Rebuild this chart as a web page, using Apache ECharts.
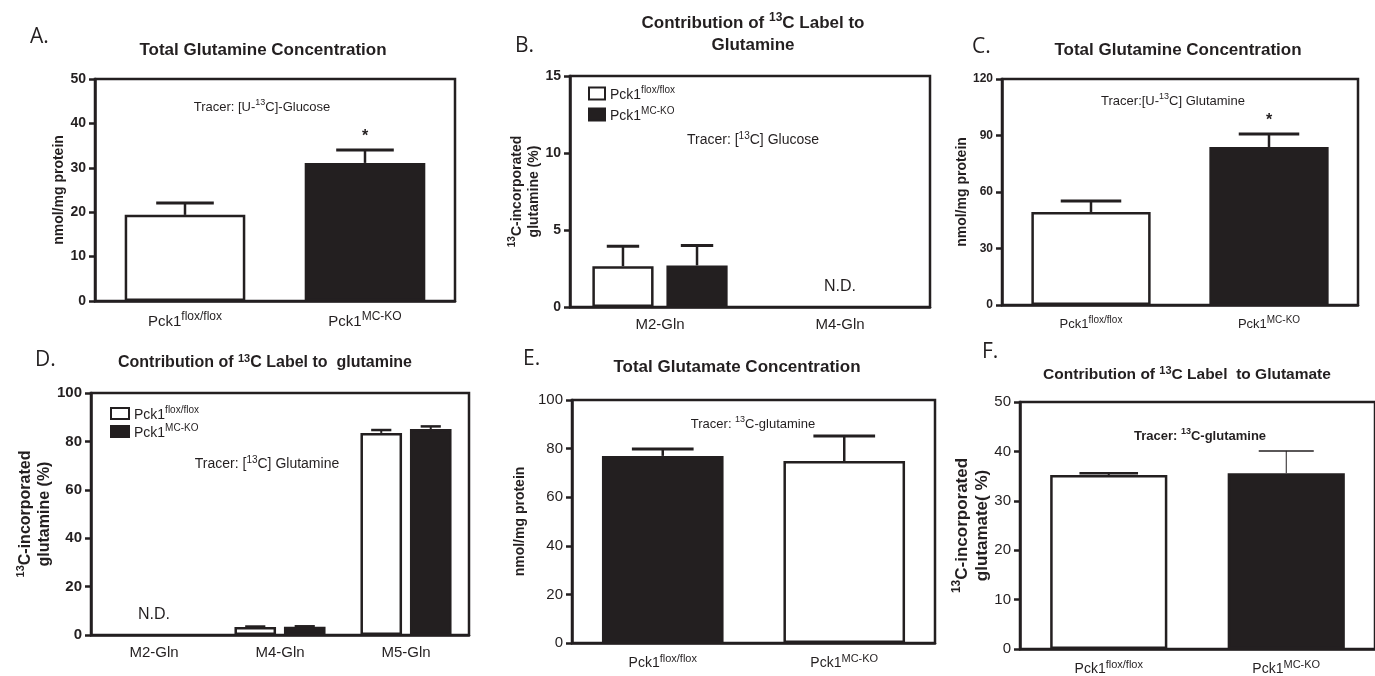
<!DOCTYPE html>
<html>
<head>
<meta charset="utf-8">
<script src="https://cdn.jsdelivr.net/npm/echarts@6/dist/echarts.min.js"></script>
<style>
  html, body { margin: 0; padding: 0; background: #fff; }
  #chart { width: 1375px; height: 676px; }
</style>
</head>
<body>
<div id="chart"></div>
<script>
// genotype superscripts (Pck1^x)
const genotypes = ['flox/flox', 'MC-KO'];

// A: total glutamine, [U-13C]-glucose tracer
const aMean = [19.4, 31.1];
const aSem = [2.7, 2.9];

// B: 13C label to glutamine, glucose tracer
const bCats = ['M2-Gln', 'M4-Gln'];
const bFlox = [2.65, null];
const bFloxSem = [1.3, null];
const bKo = [2.7, null];
const bKoSem = [1.3, null];

// C: total glutamine, [U-13C] glutamine tracer
const cMean = [49.4, 83.9];
const cSem = [5.8, 6.9];

// D: 13C label to glutamine, glutamine tracer
const dCats = ['M2-Gln', 'M4-Gln', 'M5-Gln'];
const dFlox = [null, 3.3, 83.5];
const dFloxSem = [null, 0.2, 1.2];
const dKo = [null, 3.4, 85.1];
const dKoSem = [null, 0.2, 1.1];

// E: total glutamate
const eMean = [77.0, 74.9];
const eSem = [2.8, 10.3];

// F: 13C label to glutamate
const fMean = [35.2, 35.6];
const fSem = [0.4, 4.5];

const ink = '#231f20';
const font = 'Liberation Sans';
const chart = echarts.init(document.getElementById('chart'));

// rich styles for superscripts
function richSet(size, bold, supSize) {
  const w = bold ? 'bold' : 'normal';
  return {
    n: { fontSize: size, fontWeight: w, fontFamily: font, color: ink, lineHeight: size + 3, verticalAlign: 'bottom' },
    s: { fontSize: supSize, fontWeight: w, fontFamily: font, color: ink, lineHeight: supSize, verticalAlign: 'top' }
  };
}

const grids = [
  { left: 95, top: 79, width: 360, height: 222 },
  { left: 570, top: 76, width: 360, height: 231 },
  { left: 1002, top: 79, width: 356, height: 226 },
  { left: 91, top: 393, width: 378, height: 242 },
  { left: 572, top: 400, width: 363, height: 243 },
  { left: 1020, top: 402, width: 358, height: 247 }
].map(g => Object.assign(g, { show: true, borderColor: ink, borderWidth: 2.5 }));

function xAx(idx, cats, size, pck) {
  return {
    type: 'category', gridIndex: idx, data: cats,
    axisLine: { lineStyle: { color: ink, width: 2.5 } },
    axisTick: { show: false },
    axisLabel: pck ? {
      margin: 10,
      formatter: v => '{n|Pck1}{s|' + v + '}',
      rich: richSet(size, false, Math.round(size * 0.78))
    } : { margin: 10, fontSize: size, fontFamily: font, color: ink }
  };
}

function yAx(idx, max, interval, labelSize, bold, name, nameSize, nameGap) {
  return {
    type: 'value', gridIndex: idx, min: 0, max: max, interval: interval,
    splitLine: { show: false },
    axisLine: { show: true, lineStyle: { color: ink, width: 2.5 } },
    axisTick: { show: true, length: 6, lineStyle: { color: ink, width: 2.5 } },
    axisLabel: { margin: 9, fontSize: labelSize, fontWeight: bold ? 'bold' : 'normal', fontFamily: font, color: ink },
    name: name, nameLocation: 'middle', nameRotate: 90, nameGap: nameGap,
    nameTextStyle: { rich: richSet(nameSize, true, Math.round(nameSize * 0.7)) }
  };
}

function barItem(v, fill) {
  return { value: v, itemStyle: { color: fill } };
}

function bars(idx, name, values, fills, width, gap) {
  return {
    type: 'bar', name: name, xAxisIndex: idx, yAxisIndex: idx,
    barWidth: width, barGap: gap,
    data: values.map((v, i) => barItem(v, Array.isArray(fills) ? fills[i] : fills)),
    itemStyle: { borderColor: ink, borderWidth: 2.5, color: Array.isArray(fills) ? fills[0] : fills },
    emphasis: { disabled: true }
  };
}

// upper error bars (mean -> mean + sem) with caps, optional asterisk
function errs(idx, means, sems, offset, capFrac, lw, stars) {
  const data = [];
  means.forEach((m, i) => { if (m != null && sems[i] != null) data.push([i, m, sems[i]]); });
  return {
    type: 'custom', xAxisIndex: idx, yAxisIndex: idx, z: 5, data: data,
    renderItem: function (params, api) {
      const i = api.value(0), m = api.value(1), s = api.value(2);
      const band = api.size([1, 0])[0];
      const b = api.coord([i, m]), t = api.coord([i, m + s]);
      const x = b[0] + offset * band, half = capFrac * band / 2;
      const kids = [
        { type: 'line', shape: { x1: x, y1: b[1], x2: x, y2: t[1] }, style: { stroke: ink, lineWidth: lw } },
        { type: 'line', shape: { x1: x - half, y1: t[1], x2: x + half, y2: t[1] }, style: { stroke: ink, lineWidth: lw + 0.5 } }
      ];
      if (stars && stars[i]) {
        kids.push({ type: 'text', x: x, y: t[1] - 13, style: { text: '*', fill: ink, font: 'bold 16px ' + font, align: 'center', verticalAlign: 'middle' } });
      }
      return { type: 'group', children: kids };
    }
  };
}

// "N.D." marker placed at a category's baseline
function notDetected(idx, catIndex, size) {
  return {
    type: 'scatter', xAxisIndex: idx, yAxisIndex: idx, symbolSize: 0,
    data: [[catIndex, 0]], silent: true, itemStyle: { opacity: 1 },
    label: { show: true, formatter: 'N.D.', position: 'top', distance: 12, fontSize: size, fontFamily: font, color: ink, opacity: 1 }
  };
}

const white = '#ffffff';
const black = ink;
const bw = 0.34, bg = 0.21;
const bOff = bw * (1 + bg) / 2;
const dw = 0.33, dg = 0.19;
const dOff = dw * (1 + dg) / 2;

const legendNames = {
  bFlox: '{n|Pck1}{s|flox/flox}', bKo: '{n|Pck1}{s|MC-KO}',
  dFlox: '{n|Pck1}{s|flox/flox}', dKo: '{n|Pck1}{s|MC-KO}'
};

function txt(x, y, text, size, bold, align, lh) {
  return {
    type: 'text', x: x, y: y, silent: true,
    style: {
      text: text, fill: ink, align: align || 'center', verticalAlign: 'middle',
      font: (bold ? 'bold ' : '') + size + 'px ' + font,
      lineHeight: lh || size + 4,
      rich: {
        s: { fontSize: Math.round(size * 0.7), fontWeight: bold ? 'bold' : 'normal', fontFamily: font, verticalAlign: 'top', lineHeight: Math.round(size * 0.7) },
        n: { fontSize: size, fontWeight: bold ? 'bold' : 'normal', fontFamily: font, verticalAlign: 'bottom', lineHeight: lh || size + 4 }
      }
    }
  };
}

function letter(x, y, t) {
  return { type: 'text', x: x, y: y, silent: true,
    style: { text: t, fill: ink, font: '21px "Open Sans"', align: 'left', verticalAlign: 'middle' } };
}

chart.setOption({
  animation: false,
  grid: grids,
  xAxis: [
    xAx(0, genotypes, 15, true),
    xAx(1, bCats, 15, false),
    xAx(2, genotypes, 13, true),
    xAx(3, dCats, 15, false),
    xAx(4, genotypes, 14, true),
    xAx(5, genotypes, 14, true)
  ],
  yAxis: [
    yAx(0, 50, 10, 14, true, '{n|nmol/mg protein}', 14, 26),
    yAx(1, 15, 5, 14, true, '{s|13}{n|C-incorporated}\n{n|glutamine (%)}', 14, 24),
    yAx(2, 120, 30, 12, true, '{n|nmol/mg protein}', 14, 29),
    yAx(3, 100, 20, 15, true, '{s|13}{n|C-incorporated}\n{n|glutamine (%)}', 16, 33),
    yAx(4, 100, 20, 15, false, '{n|nmol/mg protein}', 14, 45),
    yAx(5, 50, 10, 15, false, '{s|13}{n|C-incorporated}\n{n|glutamate( %)}', 17, 27)
  ],
  legend: [
    {
      left: 583, top: 80, orient: 'vertical', itemWidth: 16, itemHeight: 12, itemGap: 4,
      data: ['bFlox', 'bKo'], icon: 'rect', selectedMode: false,
      itemStyle: { borderColor: ink, borderWidth: 2 },
      formatter: n => legendNames[n], textStyle: { rich: richSet(14, false, 10) }
    },
    {
      left: 105, top: 400, orient: 'vertical', itemWidth: 18, itemHeight: 11, itemGap: 1,
      data: ['dFlox', 'dKo'], icon: 'rect', selectedMode: false,
      itemStyle: { borderColor: ink, borderWidth: 2 },
      formatter: n => legendNames[n], textStyle: { rich: richSet(14, false, 10) }
    }
  ],
  series: [
    bars(0, 'a', aMean, [white, black], '67%', 0),
    errs(0, aMean, aSem, 0, 0.32, 2.5, [false, true]),

    bars(1, 'bFlox', bFlox, white, '34%', '21%'),
    bars(1, 'bKo', bKo, black, '34%', '21%'),
    errs(1, bFlox, bFloxSem, -bOff, 0.18, 2.5),
    errs(1, bKo, bKoSem, bOff, 0.18, 2.5),
    notDetected(1, 1, 16),

    bars(2, 'c', cMean, [white, black], '67%', 0),
    errs(2, cMean, cSem, 0, 0.34, 2.5, [false, true]),

    bars(3, 'dFlox', dFlox, white, '33%', '19%'),
    bars(3, 'dKo', dKo, black, '33%', '19%'),
    errs(3, dFlox, dFloxSem, -dOff, 0.16, 2),
    errs(3, dKo, dKoSem, dOff, 0.16, 2),
    notDetected(3, 0, 16),

    bars(4, 'e', eMean, [black, white], '67%', 0),
    errs(4, eMean, eSem, 0, 0.34, 2.5),

    bars(5, 'f', fMean, [white, black], '66%', 0),
    errs(5, [fMean[0]], [fSem[0]], 0, 0.33, 2),
    errs(5, [null, fMean[1]], [null, fSem[1]], 0, 0.31, 1)
  ],
  graphic: [
    letter(30, 37, 'A.'), letter(515, 46, 'B.'), letter(972, 47, 'C.'),
    letter(35, 360, 'D.'), letter(523, 359, 'E.'), letter(982, 352, 'F.'),

    txt(263, 50, 'Total Glutamine Concentration', 17, true),
    txt(753, 34, 'Contribution of {s|13}C Label to\nGlutamine', 17, true, 'center', 22),
    txt(1178, 50, 'Total Glutamine Concentration', 17, true),
    txt(265, 363, 'Contribution of {s|13}C Label to  glutamine', 16, true),
    txt(737, 367, 'Total Glutamate Concentration', 17, true),
    txt(1187, 375, 'Contribution of {s|13}C Label  to Glutamate', 15.5, true),

    txt(262, 107, 'Tracer: [U-{s|13}C]-Glucose', 13, false),
    txt(753, 140, 'Tracer: [{s|13}C] Glucose', 14, false),
    txt(1173, 101, 'Tracer:[U-{s|13}C] Glutamine', 13, false),
    txt(267, 464, 'Tracer: [{s|13}C] Glutamine', 14, false),
    txt(753, 424, 'Tracer: {s|13}C-glutamine', 13, false),
    txt(1200, 436, 'Tracer: {s|13}C-glutamine', 13, true)
  ]
});
</script>
</body>
</html>
